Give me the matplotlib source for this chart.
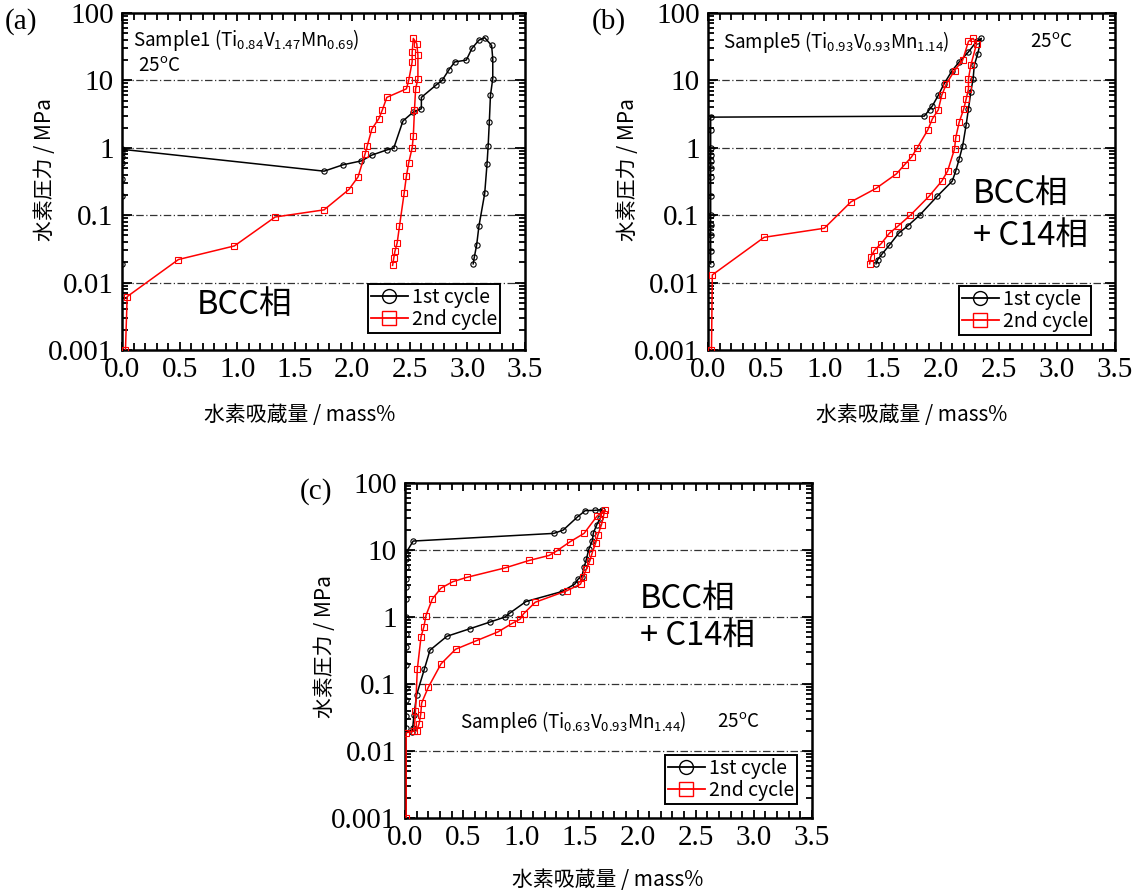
import matplotlib
matplotlib.use("Agg")
import matplotlib.pyplot as plt
from matplotlib.ticker import LogLocator, MultipleLocator, FixedLocator, NullFormatter
from matplotlib.lines import Line2D

plt.rcParams['font.family'] = ['Noto Sans CJK JP', 'DejaVu Sans']
plt.rcParams['mathtext.default'] = 'regular'

# ---------------- data ----------------
# Panel (a) Sample1
a1_x = [0.0, 0.0, 0.0, 0.0, 0.0, 0.0, 0.0, 1.755, 1.92, 2.08, 2.17, 2.30, 2.36, 2.44, 2.53, 2.60, 2.60,
        2.73, 2.78, 2.84, 2.89, 2.99, 3.04, 3.10, 3.15,
        3.21, 3.22, 3.22, 3.20, 3.19, 3.18, 3.17, 3.15, 3.10, 3.08, 3.06, 3.05]
a1_p = [0.019, 0.19, 0.35, 0.59, 0.74, 0.83, 0.95, 0.45, 0.56, 0.64, 0.78, 0.93, 0.99, 2.5, 3.4, 3.8, 5.6,
        8.6, 10.0, 14.4, 18.8, 20.0, 30.0, 39.6, 43.0,
        33.0, 21.0, 10.6, 6.0, 2.4, 1.07, 0.57, 0.21, 0.069, 0.036, 0.024, 0.019]
a2_x = [0.03, 0.045, 0.49, 0.976, 1.33, 1.755, 1.97, 2.05, 2.11, 2.13, 2.17, 2.23, 2.26, 2.30, 2.47, 2.49,
        2.52, 2.52, 2.53,
        2.56, 2.57, 2.57, 2.55, 2.54, 2.53, 2.52, 2.49, 2.47, 2.45, 2.41, 2.39, 2.37, 2.36, 2.35]
a2_p = [0.001, 0.0062, 0.022, 0.035, 0.094, 0.12, 0.24, 0.37, 0.80, 1.07, 1.9, 2.7, 3.6, 5.6, 7.5, 10.0,
        18.8, 26.0, 42.0,
        35.0, 23.6, 10.6, 7.5, 3.6, 1.48, 1.0, 0.6, 0.38, 0.21, 0.069, 0.039, 0.029, 0.023, 0.018]

# Panel (b) Sample5
b1_x = [0.023] * 13 + [1.86, 1.905, 1.93, 1.98, 2.03, 2.10, 2.16, 2.24, 2.31, 2.35,
                       2.32, 2.29, 2.28, 2.26, 2.24, 2.22, 2.19, 2.16, 2.13, 2.10, 1.97, 1.82,
                       1.72, 1.64, 1.56, 1.50, 1.46, 1.445]
b1_p = [0.019, 0.029, 0.05, 0.071, 0.1, 0.19, 0.37, 0.5, 0.63, 0.79, 1.0, 1.84, 2.85,
        2.95, 3.7, 4.2, 6.0, 8.9, 14.0, 18.8, 26.5, 38.0, 42.0,
        25.0, 16.8, 10.6, 6.7, 3.8, 2.2, 1.07, 0.68, 0.45, 0.32, 0.19, 0.10,
        0.07, 0.054, 0.036, 0.027, 0.022, 0.019]
b2_x = [0.03, 0.037, 0.483, 1.0, 1.23, 1.445, 1.62, 1.69, 1.75, 1.80, 1.89, 1.93, 1.98, 2.01, 2.05, 2.12,
        2.19, 2.24, 2.28,
        2.31, 2.26, 2.24, 2.24, 2.22, 2.20, 2.16, 2.13, 2.12, 2.06, 2.01, 1.90, 1.74, 1.63, 1.56,
        1.49, 1.43, 1.40, 1.39]
b2_p = [0.001, 0.013, 0.047, 0.064, 0.158, 0.25, 0.41, 0.56, 0.73, 1.0, 1.84, 2.7, 3.65, 6.0, 8.9, 14.0,
        20.0, 38.0, 42.0,
        35.0, 16.8, 10.6, 7.5, 5.3, 3.8, 2.4, 1.4, 0.96, 0.45, 0.32, 0.19, 0.10, 0.068, 0.054,
        0.038, 0.030, 0.024, 0.019]

# Panel (c) Sample6
c1_x = [0.01] * 14 + [0.07, 1.28, 1.36, 1.48, 1.55, 1.63, 1.69,
                      1.68, 1.65, 1.62, 1.61, 1.58, 1.56, 1.54, 1.52, 1.49, 1.46, 1.35, 1.04, 0.90,
                      0.86, 0.73, 0.56, 0.36, 0.215, 0.166, 0.10, 0.077, 0.066, 0.057]
c1_p = [0.022, 0.033, 0.058, 0.087, 0.19, 0.36, 0.56, 1.0, 1.86, 2.8, 3.7, 5.5, 7.3, 9.1,
        13.6, 17.7, 19.8, 30.8, 38.7, 39.0, 40.0,
        30.0, 24.0, 18.0, 13.6, 10.2, 7.3, 5.5, 4.0, 3.7, 3.1, 2.4, 1.7, 1.14,
        1.0, 0.84, 0.67, 0.515, 0.32, 0.166, 0.069, 0.034, 0.022, 0.019]
c2_x = [0.01, 0.01, 0.08, 0.09, 0.106, 0.138, 0.163, 0.18, 0.235, 0.31, 0.41, 0.53, 0.86, 1.07, 1.24,
        1.305, 1.42, 1.54, 1.65, 1.72,
        1.71, 1.69, 1.66, 1.64, 1.61, 1.59, 1.56, 1.53, 1.51, 1.39, 1.12, 1.02, 0.99, 0.92, 0.80,
        0.61, 0.435, 0.31, 0.20, 0.143, 0.135, 0.12, 0.10]
c2_p = [0.001, 0.0187, 0.02, 0.04, 0.166, 0.51, 0.72, 1.05, 1.86, 2.7, 3.36, 3.9, 5.4, 7.0, 8.3,
        9.7, 13.3, 17.7, 31.8, 40.0,
        34.0, 24.0, 17.0, 12.8, 9.1, 6.9, 5.2, 3.9, 3.1, 2.46, 1.66, 1.12, 0.93, 0.80, 0.60,
        0.44, 0.33, 0.20, 0.089, 0.052, 0.035, 0.025, 0.02]

series_labels = ['1st cycle', '2nd cycle']
x_ticks = [0.0, 0.5, 1.0, 1.5, 2.0, 2.5, 3.0, 3.5]
x_ticklabels = ['0.0', '0.5', '1.0', '1.5', '2.0', '2.5', '3.0', '3.5']
y_ticks = [0.001, 0.01, 0.1, 1, 10, 100]
y_ticklabels = ['0.001', '0.01', '0.1', '1', '10', '100']
grid_levels = [0.01, 0.1, 1, 10]

ylabel_text = '水素圧力 / MPa'
xlabel_text = '水素吸蔵量 / mass%'

# ---------------- figure ----------------
W, H = 1139, 891
fig = plt.figure(figsize=(W / 100, H / 100), dpi=100)


def fx(px):
    return px / W


def fy(py):
    return 1 - py / H


def make_axes(left, top, right, bottom):
    return fig.add_axes([fx(left), fy(bottom), (right - left) / W, (bottom - top) / H])


serif = 'Liberation Serif'


def style_axes(ax):
    ax.set_yscale('log')
    ax.set_xlim(0, 3.5)
    ax.set_ylim(0.001, 100)
    ax.xaxis.set_major_locator(FixedLocator(x_ticks))
    ax.xaxis.set_minor_locator(MultipleLocator(0.1))
    ax.set_xticklabels(x_ticklabels)
    ax.yaxis.set_major_locator(FixedLocator(y_ticks))
    ax.set_yticklabels(y_ticklabels)
    ax.yaxis.set_minor_locator(LogLocator(base=10, subs=range(2, 10), numticks=20))
    ax.yaxis.set_minor_formatter(NullFormatter())
    ax.tick_params(which='both', direction='in', top=True, right=True, width=1.3)
    ax.tick_params(axis='x', which='major', length=6, pad=5)
    ax.tick_params(axis='x', which='minor', length=5)
    ax.tick_params(axis='y', which='major', length=7, pad=6)
    ax.tick_params(axis='y', which='minor', length=4)
    for lab in ax.get_xticklabels() + ax.get_yticklabels():
        lab.set_fontfamily(serif)
        lab.set_fontsize(21)
    for s in ax.spines.values():
        s.set_linewidth(1.8)
    for g in grid_levels:
        ax.axhline(g, color='#333333', lw=0.9, dashes=(6, 2, 1, 2), zorder=1)


def plot_pair(ax, x1, p1, x2, p2):
    ax.plot(x1, p1, color='black', lw=1.1, marker='o', ms=3.8, mfc='none', mec='black',
            mew=0.8, label=series_labels[0], zorder=3)
    ax.plot(x2, p2, color='red', lw=1.1, marker='s', ms=3.8, mfc='none', mec='red',
            mew=0.8, label=series_labels[1], zorder=3)


def add_legend(ax, anchor):
    handles = [Line2D([], [], color='black', lw=1.3, marker='o', ms=10, mfc='none', mew=1.0),
               Line2D([], [], color='red', lw=1.3, marker='s', ms=10, mfc='none', mew=1.0)]
    leg = ax.legend(handles, series_labels, loc='lower right', bbox_to_anchor=anchor,
                    fontsize=14, frameon=True, fancybox=False, framealpha=1,
                    edgecolor='black', borderpad=0.15, labelspacing=0.05,
                    handlelength=1.9, handletextpad=0.2, borderaxespad=0.0)
    leg.get_frame().set_linewidth(1.4)


# Panel (a)
ax_a = make_axes(122, 13, 525, 350)
style_axes(ax_a)
plot_pair(ax_a, a1_x, a1_p, a2_x, a2_p)
add_legend(ax_a, (0.938, 0.05))

# Panel (b)
ax_b = make_axes(708, 13, 1115, 350)
style_axes(ax_b)
plot_pair(ax_b, b1_x, b1_p, b2_x, b2_p)
add_legend(ax_b, (0.941, 0.045))

# Panel (c)
ax_c = make_axes(405, 483, 812, 818)
style_axes(ax_c)
plot_pair(ax_c, c1_x, c1_p, c2_x, c2_p)
add_legend(ax_c, (0.963, 0.042))

# Panel letters
fig.text(fx(5), fy(22), '(a)', fontfamily=serif, fontsize=21, va='center', ha='left')
fig.text(fx(592), fy(22), '(b)', fontfamily=serif, fontsize=21, va='center', ha='left')
fig.text(fx(300), fy(492), '(c)', fontfamily=serif, fontsize=21, va='center', ha='left')

# Axis labels
fig.text(fx(45), fy(170), ylabel_text, rotation=90, fontsize=15, ha='center', va='center')
fig.text(fx(628), fy(170), ylabel_text, rotation=90, fontsize=15, ha='center', va='center')
fig.text(fx(325), fy(647), ylabel_text, rotation=90, fontsize=15, ha='center', va='center')
fig.text(fx(300), fy(415), xlabel_text, fontsize=15, ha='center', va='center')
fig.text(fx(912), fy(415), xlabel_text, fontsize=15, ha='center', va='center')
fig.text(fx(608), fy(880), xlabel_text, fontsize=15, ha='center', va='center')

# Annotations
fig.text(fx(133), fy(40), 'Sample1 (Ti$_{0.84}$V$_{1.47}$Mn$_{0.69}$)', fontsize=13.5, ha='left', va='center')
fig.text(fx(138), fy(66), '25$^{o}$C', fontsize=13.5, ha='left', va='center')
fig.text(fx(723), fy(42), 'Sample5 (Ti$_{0.93}$V$_{0.93}$Mn$_{1.14}$)', fontsize=13.5, ha='left', va='center')
fig.text(fx(1030), fy(42), '25$^{o}$C', fontsize=13.5, ha='left', va='center')
fig.text(fx(460), fy(722), 'Sample6 (Ti$_{0.63}$V$_{0.93}$Mn$_{1.44}$)', fontsize=13.5, ha='left', va='center')
fig.text(fx(717), fy(722), '25$^{o}$C', fontsize=13.5, ha='left', va='center')

fig.text(fx(197), fy(306), 'BCC相', fontsize=23.5, ha='left', va='center')
fig.text(fx(973), fy(195), 'BCC相', fontsize=23.5, ha='left', va='center')
fig.text(fx(973), fy(237), '+ C14相', fontsize=23.5, ha='left', va='center')
fig.text(fx(640), fy(600), 'BCC相', fontsize=23.5, ha='left', va='center')
fig.text(fx(640), fy(637), '+ C14相', fontsize=23.5, ha='left', va='center')

fig.savefig('out.png', dpi=100)
